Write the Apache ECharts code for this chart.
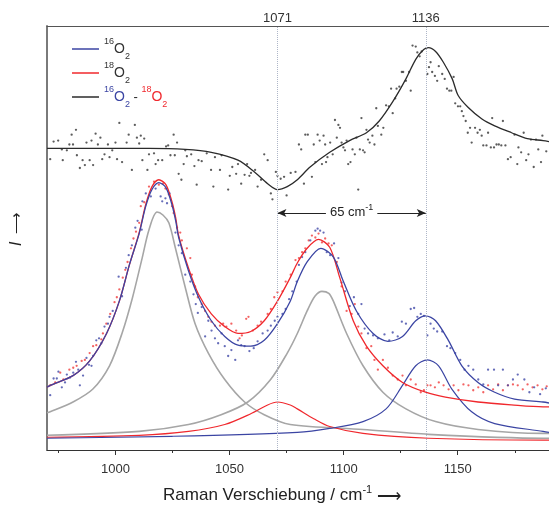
<!DOCTYPE html>
<html><head><meta charset="utf-8">
<script src="https://cdn.jsdelivr.net/npm/echarts@6/dist/echarts.min.js"></script>
<style>html,body{margin:0;padding:0;background:#fff}#c{width:549px;height:511px}</style>
</head><body><div id="c"></div>
<script>
// ---- tick values ----
const topTicks = [1071, 1136];
const majorTicks = [1000, 1050, 1100, 1150];
const minorTicks = [975, 1025, 1075, 1125, 1175];

// ---- fitted curves [wavenumber, intensity (a.u.)] ----
const fitO16 = [[970.0,64],[971.4,66],[981.4,76],[988.7,91],[996.1,119],[1001.7,152],[1006.1,189],[1010.4,221],[1013.3,249],[1016.0,266],[1019.0,273],[1022.1,268],[1024.7,251],[1026.4,234],[1027.7,217],[1032.0,183],[1036.4,156],[1042.0,132],[1047.9,116],[1053.7,107],[1059.3,106],[1065.2,112],[1071.0,129],[1076.6,152],[1079.7,172],[1084.0,192],[1090.0,206],[1095.5,197],[1099.9,172],[1105.6,142],[1112.9,119],[1119.4,111],[1125.8,116],[1131.6,132],[1135.9,137],[1140.3,132],[1145.9,112],[1151.8,86],[1158.9,69],[1166.2,59],[1174.9,52],[1187.4,49],[1190.0,48]];
const fitO18 = [[970.0,64],[971.4,66],[981.4,76],[988.7,91],[996.1,119],[1001.7,152],[1006.1,189],[1010.4,222],[1013.3,251],[1016.0,269],[1019.0,276],[1022.1,271],[1024.7,254],[1026.4,237],[1027.7,219],[1032.0,186],[1036.4,159],[1042.0,139],[1047.9,126],[1053.7,119],[1059.3,121],[1065.2,132],[1071.0,152],[1076.6,176],[1079.7,191],[1084.0,206],[1089.0,215],[1093.9,207],[1098.3,176],[1104.2,132],[1110.0,106],[1117.2,86],[1125.8,69],[1135.9,59],[1144.6,54],[1158.9,49],[1173.5,46],[1187.4,44],[1190.0,44]];
const fitDiff = [[970.0,308],[993.1,308],[1014.7,308],[1030.6,307],[1042.0,304],[1053.7,296],[1060.9,284],[1066.7,272],[1071.0,266],[1075.3,269],[1079.7,276],[1085.3,289],[1093.9,304],[1102.6,316],[1110.0,324],[1115.6,336],[1121.6,356],[1127.3,379],[1131.6,399],[1135.1,409],[1137.2,411],[1140.3,407],[1143.7,396],[1147.6,379],[1150.2,362],[1154.5,350],[1160.6,338],[1166.2,331],[1173.6,324],[1180.5,318],[1187.4,316],[1190.0,315]];
const peakCommon1 = [[970.0,38],[971.4,39],[981.4,49],[990.0,62],[997.4,86],[1003.0,120],[1007.4,155],[1011.7,196],[1014.7,225],[1018.2,243],[1020.8,240],[1023.4,232],[1026.3,206],[1030.6,166],[1034.9,129],[1040.7,99],[1047.9,72],[1056.6,49],[1065.2,36],[1076.6,26],[1108.5,21],[1137.2,16],[1187.4,12],[1190.0,12]];
const peakCommon2 = [[970.0,15],[1010.4,19],[1032.0,26],[1046.3,36],[1058.0,49],[1068.0,72],[1075.3,99],[1079.7,119],[1084.0,142],[1087.4,157],[1090.5,162],[1093.5,160],[1095.5,152],[1101.3,119],[1108.5,86],[1117.2,59],[1127.3,42],[1140.3,29],[1158.9,21],[1187.4,17],[1190.0,17]];
const peakO18 = [[970.0,13],[1010.4,15],[1032.0,19],[1047.9,26],[1059.3,37],[1066.7,46],[1071.0,49],[1076.6,46],[1079.7,42],[1086.9,32],[1093.9,24],[1108.5,17],[1137.2,12],[1187.4,10],[1190.0,10]];
const peakO16 = [[970.0,12],[1024.7,14],[1079.7,18],[1093.9,22],[1108.5,29],[1118.6,42],[1125.8,66],[1131.6,86],[1136.7,92],[1141.6,86],[1147.5,62],[1156.1,39],[1166.2,27],[1187.4,19],[1190.0,18]];

// ---- measured points ----
const dotsO16 = [[971.4,56],[972.9,73],[974.3,73],[975.0,80],[976.5,64],[977.9,69],[978.7,77],[980.1,74],[981.5,79],[982.7,90],[983.7,82],[984.4,66],[985.8,76],[987.3,94],[988.4,87],[989.5,86],[990.2,96],[991.6,112],[992.8,114],[993.8,109],[995.2,126],[996.7,129],[997.4,136],[998.8,142],[1001.4,177],[1002.9,157],[1004.6,186],[1005.8,199],[1007.2,209],[1008.7,227],[1009.7,234],[1011.5,225],[1011.8,254],[1013.3,262],[1015.5,259],[1017.6,267],[1019.8,259],[1020.5,254],[1021.9,257],[1022.6,252],[1023.7,262],[1026.3,222],[1027.7,209],[1029.1,201],[1030.6,179],[1032.8,172],[1034.2,159],[1035.2,149],[1036.1,140],[1037.8,146],[1039.3,116],[1040.7,132],[1042.1,122],[1043.6,114],[1045.0,109],[1046.5,119],[1047.9,106],[1049.4,96],[1050.8,102],[1052.5,92],[1053.7,112],[1055.1,107],[1056.6,106],[1058.7,101],[1060.6,104],[1062.3,111],[1064.5,119],[1066.7,122],[1068.1,127],[1069.8,132],[1071.0,136],[1073.2,139],[1074.6,144],[1076.1,154],[1077.5,162],[1079.4,172],[1080.4,189],[1081.8,197],[1083.2,202],[1085.4,214],[1087.6,224],[1088.6,226],[1089.7,224],[1091.2,222],[1092.6,202],[1094.1,199],[1095.8,211],[1097.7,196],[1099.1,171],[1100.6,162],[1102.7,147],[1104.5,156],[1106.4,139],[1107.8,149],[1109.2,124],[1110.7,119],[1112.9,117],[1115.0,114],[1117.9,118],[1120.0,112],[1121.5,120],[1123.7,116],[1125.5,131],[1127.3,129],[1129.4,144],[1130.9,145],[1132.3,136],[1133.8,139],[1135.2,137],[1136.7,117],[1138.1,129],[1139.5,124],[1141.0,121],[1143.2,121],[1145.3,106],[1146.8,104],[1148.9,99],[1151.1,92],[1153.0,82],[1154.7,86],[1156.8,82],[1159.0,72],[1161.2,67],[1163.3,82],[1165.9,82],[1167.7,66],[1169.8,82],[1172.0,66],[1174.2,72],[1176.3,77],[1179.2,72],[1181.4,59],[1183.5,64],[1186.1,57],[1188.6,63]];
const dotsO18 = [[971.4,66],[973.6,69],[975.8,79],[977.2,72],[979.8,82],[981.5,84],[983.0,86],[985.2,91],[986.6,92],[988.7,99],[990.2,106],[991.6,107],[993.8,113],[994.5,119],[996.0,129],[997.7,139],[999.6,151],[1000.6,156],[1001.7,164],[1003.2,176],[1004.3,184],[1005.3,192],[1006.8,206],[1007.9,216],[1009.0,223],[1010.4,232],[1011.1,249],[1012.6,253],[1014.7,269],[1016.9,274],[1019.0,271],[1020.8,272],[1021.9,267],[1023.4,261],[1024.8,249],[1025.5,242],[1027.0,227],[1028.4,222],[1029.1,214],[1031.3,206],[1032.8,196],[1033.5,179],[1034.9,167],[1036.1,156],[1037.8,149],[1039.3,142],[1040.7,136],[1042.1,131],[1043.6,127],[1045.8,127],[1047.2,129],[1048.6,126],[1050.8,129],[1052.9,122],[1054.4,114],[1055.4,117],[1057.3,134],[1058.3,136],[1060.2,122],[1062.3,127],[1063.8,131],[1066.7,139],[1068.1,144],[1069.6,156],[1071.0,161],[1073.2,162],[1074.6,172],[1076.8,179],[1078.9,194],[1080.4,196],[1081.8,202],[1083.2,206],[1084.7,214],[1086.1,219],[1087.6,217],[1089.0,221],[1090.5,212],[1091.9,216],[1093.4,211],[1094.8,209],[1097.0,192],[1099.1,167],[1101.3,142],[1103.5,139],[1104.9,149],[1106.4,126],[1107.8,119],[1110.0,104],[1112.1,106],[1113.5,92],[1115.0,82],[1117.2,92],[1119.4,84],[1121.5,76],[1123.7,72],[1125.8,76],[1127.3,66],[1129.4,72],[1131.6,67],[1133.8,59],[1135.2,61],[1136.7,66],[1138.1,66],[1140.0,64],[1141.7,69],[1143.8,66],[1146.0,62],[1148.2,66],[1150.3,61],[1152.5,67],[1154.7,66],[1156.8,61],[1159.0,64],[1161.2,59],[1163.3,66],[1165.5,62],[1167.7,67],[1169.8,61],[1172.0,66],[1174.2,67],[1176.3,66],[1178.5,62],[1180.6,67],[1182.8,64],[1185.0,66],[1187.1,62],[1189.0,65]];
const dotsDiff = [[971.4,297],[972.9,315],[974.9,316],[976.5,307],[976.9,296],[978.7,306],[979.8,312],[980.8,322],[981.4,312],[982.7,327],[983.1,301],[984.4,288],[985.6,296],[986.6,291],[987.3,314],[988.7,296],[989.5,316],[990.2,291],[991.3,323],[992.3,312],[993.4,319],[994.2,297],[995.2,302],[996.7,312],[997.4,299],[998.6,306],[1000.0,314],[1000.7,297],[1001.7,334],[1002.9,294],[1004.9,314],[1005.8,322],[1007.2,286],[1008.5,332],[1009.4,319],[1010.4,313],[1011.1,321],[1011.8,296],[1012.6,318],[1014.0,286],[1014.7,302],[1016.9,303],[1017.6,292],[1018.7,296],[1020.5,296],[1022.2,310],[1023.1,311],[1024.1,301],[1025.5,322],[1026.0,301],[1027.0,314],[1027.7,282],[1028.9,276],[1029.9,292],[1030.6,306],[1031.3,300],[1033.2,302],[1034.6,290],[1035.6,271],[1036.4,296],[1037.8,295],[1040.0,303],[1041.9,286],[1042.9,269],[1043.6,299],[1045.8,286],[1046.5,301],[1049.4,266],[1050.1,280],[1051.2,289],[1052.9,282],[1053.7,292],[1055.1,272],[1056.6,281],[1057.7,292],[1058.7,280],[1059.4,283],[1061.2,286],[1062.3,269],[1063.8,276],[1065.2,302],[1066.7,296],[1068.1,262],[1068.8,256],[1070.3,284],[1071.0,280],[1072.4,277],[1073.9,279],[1075.0,260],[1076.8,283],[1078.9,284],[1080.4,312],[1081.4,307],[1082.6,272],[1083.2,322],[1084.3,322],[1086.1,279],[1086.9,312],[1087.6,294],[1088.6,322],[1089.5,316],[1090.5,292],[1091.2,321],[1091.9,312],[1092.3,294],[1092.9,299],[1094.1,314],[1095.2,302],[1096.2,337],[1097.0,319],[1097.7,332],[1098.4,329],[1099.1,314],[1099.9,309],[1100.6,306],[1101.3,316],[1102.0,292],[1103.0,294],[1103.9,307],[1104.9,302],[1105.6,319],[1106.4,266],[1107.1,307],[1107.8,339],[1108.5,306],[1109.2,304],[1110.0,327],[1110.7,317],[1111.4,314],[1112.6,321],[1113.5,312],[1114.3,349],[1115.0,331],[1116.5,322],[1117.4,329],[1118.6,352],[1119.8,351],[1120.8,369],[1121.5,344],[1122.6,359],[1123.2,369],[1124.4,371],[1125.5,386],[1126.1,386],[1127.3,377],[1128.7,386],[1129.4,367],[1130.2,413],[1131.6,412],[1132.3,406],[1133.3,402],[1134.2,407],[1136.7,384],[1137.4,391],[1138.1,396],[1138.8,386],[1140.0,382],[1141.0,377],[1141.7,392],[1143.2,384],[1144.3,379],[1145.3,369],[1146.3,367],[1147.2,367],[1148.2,381],[1148.9,354],[1150.1,351],[1151.1,351],[1151.8,346],[1152.5,341],[1153.5,336],[1154.4,324],[1155.4,329],[1156.1,314],[1157.6,329],[1158.7,324],[1159.7,327],[1160.5,321],[1161.2,311],[1162.6,311],[1163.3,324],[1164.5,309],[1165.1,339],[1165.9,309],[1167.0,312],[1168.0,312],[1169.1,311],[1169.8,336],[1170.9,311],[1172.0,297],[1173.2,299],[1174.9,322],[1176.1,292],[1176.6,309],[1177.8,304],[1178.9,324],[1180.0,296],[1181.0,302],[1182.1,317],[1183.3,289],[1184.3,317],[1185.3,307],[1186.5,294],[1187.1,321],[1188.8,305]];

const FONT = '"Liberation Sans", Arial, Helvetica, sans-serif';
const BLUE = '#3b45a3', RED = '#f0282d', GRAY = '#a6a6a6', BLACK = '#2b2b2b', TXT = '#222';

const legendLabels = {
  O16: '{s|16}{o|O}{b|2}',
  O18: '{s|18}{o|O}{b|2}',
  diff: '{sB|16}{oB|O}{bB|2}{m| - }{sR|18}{oR|O}{bR|2}'
};
function richTrio(color, suffix) {
  const r = {};
  r['s' + suffix] = {fontSize: 9, color, verticalAlign: 'top', lineHeight: 8, fontFamily: FONT};
  r['o' + suffix] = {fontSize: 14, color, lineHeight: 24, fontFamily: FONT};
  r['b' + suffix] = {fontSize: 9, color, verticalAlign: 'bottom', lineHeight: 18, fontFamily: FONT};
  return r;
}

function lineS(name, data, color, width, extra) {
  return Object.assign({
    type: 'line', name, data, showSymbol: false, symbol: 'none',
    smooth: 0.3, color,
    lineStyle: {color, width}, silent: true, z: 3
  }, extra || {});
}
function dotS(name, data, color) {
  return {type: 'scatter', name, data, symbol: 'circle', symbolSize: 2.3,
    itemStyle: {color}, silent: true, z: 2};
}
const plainNum = v => String(v);

const chart = echarts.init(document.getElementById('c'), null, {renderer: 'canvas'});
chart.setOption({
  animation: false,
  backgroundColor: '#fff',
  grid: {left: 47, right: -6, top: 26, bottom: 52},
  legend: {
    data: ['O16', 'O18', 'diff'], orient: 'vertical', left: 72, top: 37, padding: 0,
    itemGap: 0, itemWidth: 27, itemHeight: 1.5, icon: 'rect', selectedMode: false,
    formatter: n => legendLabels[n],
    textStyle: {fontFamily: FONT, rich: Object.assign(
      {m: {fontSize: 13, color: TXT, lineHeight: 24, fontFamily: FONT}},
      richTrio('#333', ''), richTrio(BLUE, 'B'), richTrio(RED, 'R'))}
  },
  xAxis: [
    {type: 'value', position: 'bottom', min: 970, max: 1190,
     axisLine: {show: true, onZero: false, lineStyle: {color: '#333', width: 1}},
     axisTick: {show: true, customValues: majorTicks, length: 5, lineStyle: {color: '#333'}},
     axisLabel: {customValues: majorTicks, formatter: plainNum, fontSize: 13, color: '#333', margin: 13, fontFamily: FONT},
     splitLine: {show: false},
     name: 'Raman Verschiebung / cm{s|-1} {a|⟶}', nameLocation: 'middle', nameGap: 34,
     nameTextStyle: {fontSize: 17, color: TXT, fontFamily: FONT, lineHeight: 22, padding: [0, 32, 0, 0],
       rich: {s: {fontSize: 11, color: TXT, verticalAlign: 'top', lineHeight: 10, fontFamily: FONT},
              a: {fontSize: 17, color: TXT, verticalAlign: 'bottom', lineHeight: 17}}}},
    {type: 'value', position: 'bottom', min: 970, max: 1190,
     axisLine: {show: false, onZero: false},
     axisTick: {show: true, customValues: minorTicks, length: 3, lineStyle: {color: '#333'}},
     axisLabel: {show: false}, splitLine: {show: false}},
    {type: 'value', position: 'top', min: 970, max: 1190,
     axisLine: {show: true, onZero: false, lineStyle: {color: '#555', width: 1}},
     axisTick: {show: false},
     axisLabel: {customValues: topTicks, formatter: plainNum, fontSize: 13, color: '#333', margin: 1, fontFamily: FONT},
     splitLine: {show: false}}
  ],
  yAxis: {
    type: 'value', min: 0, max: 433,
    axisLine: {show: true, onZero: false, lineStyle: {color: '#7a7a7a', width: 2}},
    axisTick: {show: false}, axisLabel: {show: false}, splitLine: {show: false},
    name: '{i|I}{a|⟶}', nameLocation: 'middle', nameRotate: 90, nameGap: 22,
    nameTextStyle: {padding: [0, 0, 0, 18], rich: {
      i: {fontSize: 17, fontStyle: 'italic', color: TXT, fontFamily: FONT, padding: [0, 8, 0, 0]},
      a: {fontSize: 15, color: TXT}}}
  },
  series: [
    lineS('common1', peakCommon1, GRAY, 1.6, {z: 1}),
    lineS('common2', peakCommon2, GRAY, 1.6, {z: 1,
      markLine: {silent: true, symbol: ['arrow', 'arrow'], symbolSize: [6, 9],
        lineStyle: {color: TXT, width: 1, type: 'solid'},
        label: {show: true, position: 'middle', distance: -8,
          formatter: '{t|' + (topTicks[1] - topTicks[0]) + ' cm}{s|-1}',
          backgroundColor: '#fff', padding: [0, 4],
          rich: {t: {fontSize: 13, color: TXT, lineHeight: 18, fontFamily: FONT},
                 s: {fontSize: 9, color: TXT, verticalAlign: 'top', lineHeight: 9, fontFamily: FONT}}},
        data: [[{coord: [topTicks[0], 242]}, {coord: [topTicks[1], 242]}]]}}),
    lineS('compO18', peakO18, RED, 1.2, {z: 1}),
    lineS('compO16', peakO16, BLUE, 1.2, {z: 1}),
    dotS('ptsDiff', dotsDiff, '#333'),
    dotS('ptsO18', dotsO18, '#f03c3c'),
    dotS('ptsO16', dotsO16, '#4048a8'),
    lineS('O18', fitO18, RED, 1.3),
    lineS('O16', fitO16, BLUE, 1.3),
    lineS('diff', fitDiff, BLACK, 1.3, {
      markLine: {silent: true, symbol: 'none', label: {show: false},
        lineStyle: {type: 'dotted', color: '#aeb6c8', width: 1},
        data: topTicks.map(v => ({xAxis: v}))}})
  ]
});
</script></body></html>
